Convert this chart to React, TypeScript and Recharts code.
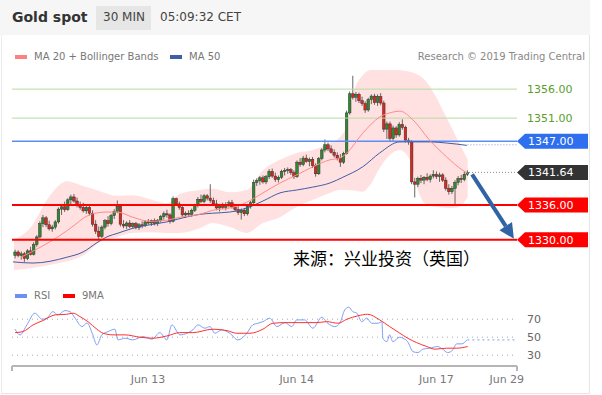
import React from "react";
import {
  ComposedChart,
  XAxis,
  YAxis,
  Bar,
  Line,
  Area,
  ReferenceLine,
} from "recharts";

// 30 min candles, [open, high, low, close], index 1..147
const candles: [number, number, number, number][] = [
  [1327.3, 1328.3, 1326.8, 1327.9], [1327.9, 1328.2, 1327.0, 1327.3], [1327.3, 1328.0, 1326.6, 1327.6],
  [1327.6, 1327.9, 1326.2, 1326.8], [1326.8, 1328.4, 1326.5, 1328.1], [1328.1, 1328.8, 1327.3, 1327.5],
  [1327.5, 1329.6, 1327.3, 1329.2], [1329.2, 1330.8, 1328.8, 1330.5], [1330.5, 1333.2, 1330.2, 1332.8],
  [1332.8, 1334.3, 1332.2, 1333.8], [1333.8, 1334.1, 1332.2, 1332.6], [1332.6, 1333.3, 1331.6, 1331.9],
  [1331.9, 1332.6, 1331.4, 1332.2], [1332.2, 1333.4, 1331.8, 1333.1], [1333.1, 1335.6, 1332.8, 1335.3],
  [1335.3, 1336.2, 1334.3, 1335.7], [1335.7, 1336.6, 1334.8, 1335.2], [1335.2, 1337.2, 1335.0, 1336.9],
  [1336.9, 1337.8, 1336.1, 1337.4], [1337.4, 1337.9, 1336.4, 1336.7], [1336.7, 1337.3, 1335.6, 1336.0],
  [1336.0, 1336.6, 1335.2, 1335.6], [1335.6, 1336.4, 1334.7, 1335.0], [1335.0, 1335.9, 1334.5, 1335.6],
  [1335.6, 1336.0, 1334.2, 1334.6], [1334.6, 1335.1, 1332.3, 1332.7], [1332.7, 1333.4, 1331.0, 1331.5],
  [1331.5, 1332.3, 1330.1, 1330.6], [1330.6, 1332.5, 1330.3, 1332.2], [1332.2, 1333.6, 1331.8, 1333.3],
  [1333.3, 1334.1, 1332.3, 1332.8], [1332.8, 1334.5, 1332.5, 1334.2], [1334.2, 1335.3, 1333.6, 1334.9],
  [1334.9, 1336.8, 1334.6, 1335.8], [1335.8, 1336.0, 1332.3, 1332.7], [1332.7, 1333.4, 1332.0, 1332.4],
  [1332.4, 1333.2, 1331.9, 1332.9], [1332.9, 1333.4, 1332.0, 1332.3], [1332.3, 1333.0, 1331.9, 1332.8],
  [1332.8, 1333.1, 1331.8, 1332.1], [1332.1, 1332.9, 1331.7, 1332.6], [1332.6, 1333.2, 1332.0, 1332.5],
  [1332.5, 1333.4, 1332.2, 1333.1], [1333.1, 1333.6, 1332.6, 1332.9], [1332.9, 1333.5, 1332.4, 1333.3],
  [1333.3, 1333.7, 1332.5, 1332.8], [1332.8, 1333.6, 1332.4, 1333.4], [1333.4, 1334.3, 1333.0, 1334.0],
  [1334.0, 1334.9, 1333.5, 1334.5], [1334.5, 1335.2, 1333.8, 1334.3], [1334.3, 1334.6, 1332.8, 1333.2],
  [1333.2, 1337.5, 1333.0, 1337.1], [1337.1, 1337.3, 1336.0, 1336.2], [1336.2, 1336.6, 1335.2, 1335.6],
  [1335.6, 1335.9, 1333.9, 1334.3], [1334.3, 1334.9, 1333.8, 1334.6], [1334.6, 1335.1, 1334.0, 1334.4],
  [1334.4, 1335.4, 1334.0, 1335.1], [1335.1, 1336.2, 1334.8, 1335.9], [1335.9, 1337.4, 1335.6, 1337.0],
  [1337.0, 1337.8, 1336.3, 1336.6], [1336.6, 1337.9, 1336.3, 1337.6], [1337.6, 1337.9, 1336.8, 1337.2],
  [1337.2, 1339.6, 1336.4, 1336.8], [1336.8, 1337.3, 1335.9, 1336.2], [1336.2, 1336.9, 1335.1, 1335.5],
  [1335.5, 1336.2, 1334.9, 1335.9], [1335.9, 1336.4, 1335.3, 1335.6], [1335.6, 1336.5, 1335.1, 1336.1],
  [1336.1, 1336.8, 1335.6, 1336.4], [1336.4, 1336.9, 1335.4, 1335.7], [1335.7, 1336.1, 1334.8, 1335.2],
  [1335.2, 1335.8, 1334.3, 1334.7], [1334.7, 1335.4, 1333.5, 1335.1], [1335.1, 1335.5, 1334.1, 1334.5],
  [1334.5, 1336.2, 1334.2, 1335.8], [1335.8, 1336.7, 1335.4, 1336.4], [1336.4, 1340.4, 1336.2, 1339.9],
  [1339.9, 1340.6, 1339.3, 1340.2], [1340.2, 1341.0, 1339.5, 1340.7], [1340.7, 1341.1, 1339.7, 1340.0],
  [1340.0, 1341.2, 1339.6, 1340.9], [1340.9, 1342.2, 1340.5, 1341.8], [1341.8, 1342.3, 1340.7, 1341.0],
  [1341.0, 1341.6, 1340.0, 1340.4], [1340.4, 1341.1, 1339.9, 1340.8], [1340.8, 1342.1, 1340.5, 1341.8],
  [1341.8, 1342.4, 1341.1, 1342.0], [1342.0, 1342.5, 1341.4, 1342.1], [1342.1, 1342.4, 1341.2, 1341.6],
  [1341.6, 1342.0, 1340.5, 1340.9], [1340.9, 1343.7, 1340.7, 1343.4], [1343.4, 1344.1, 1342.6, 1343.0],
  [1343.0, 1344.5, 1342.7, 1344.1], [1344.1, 1344.7, 1343.3, 1343.5], [1343.5, 1344.2, 1342.7, 1343.9],
  [1343.9, 1344.3, 1342.4, 1342.8], [1342.8, 1343.2, 1340.9, 1341.4], [1341.4, 1344.3, 1341.2, 1344.0],
  [1344.0, 1345.8, 1343.7, 1345.5], [1345.5, 1347.3, 1345.1, 1346.4], [1346.4, 1346.8, 1345.3, 1345.7],
  [1345.7, 1346.3, 1344.9, 1345.1], [1345.1, 1345.6, 1344.2, 1344.6], [1344.6, 1345.1, 1343.7, 1344.1],
  [1344.1, 1344.8, 1342.6, 1343.4], [1343.4, 1345.2, 1343.1, 1344.9], [1344.9, 1352.3, 1344.7, 1351.9],
  [1351.9, 1355.6, 1351.6, 1355.2], [1355.2, 1358.3, 1354.2, 1354.6], [1354.6, 1355.5, 1353.8, 1355.1],
  [1355.1, 1355.4, 1353.6, 1354.0], [1354.0, 1354.7, 1353.1, 1353.5], [1353.5, 1353.9, 1351.9, 1352.4],
  [1352.4, 1354.5, 1352.1, 1354.2], [1354.2, 1355.1, 1353.4, 1354.8], [1354.8, 1355.2, 1353.3, 1353.7],
  [1353.7, 1355.1, 1353.1, 1354.7], [1354.7, 1355.3, 1353.2, 1353.6], [1353.6, 1354.0, 1348.6, 1349.1],
  [1349.1, 1350.4, 1347.4, 1350.0], [1350.0, 1350.4, 1347.0, 1347.5], [1347.5, 1349.7, 1347.1, 1349.3],
  [1349.3, 1349.6, 1347.6, 1348.1], [1348.1, 1350.3, 1347.8, 1349.9], [1349.9, 1350.8, 1349.0, 1349.4],
  [1349.4, 1349.7, 1346.8, 1347.2], [1347.2, 1347.6, 1346.4, 1346.9], [1346.9, 1347.2, 1339.6, 1340.0],
  [1340.0, 1340.7, 1337.3, 1339.6], [1339.6, 1340.9, 1339.1, 1340.6], [1340.6, 1341.2, 1339.8, 1340.3],
  [1340.3, 1341.0, 1339.6, 1340.8], [1340.8, 1341.5, 1340.1, 1340.4], [1340.4, 1341.3, 1339.9, 1341.0],
  [1341.0, 1342.0, 1340.6, 1341.3], [1341.3, 1341.8, 1340.5, 1340.9], [1340.9, 1341.6, 1340.0, 1341.2],
  [1341.2, 1341.5, 1340.0, 1340.3], [1340.3, 1340.8, 1338.5, 1338.9], [1338.9, 1339.6, 1337.8, 1338.3],
  [1338.3, 1339.3, 1337.9, 1338.9], [1338.9, 1340.3, 1335.9, 1339.9], [1339.9, 1341.0, 1339.4, 1340.6],
  [1340.6, 1341.2, 1339.8, 1340.4], [1340.4, 1341.8, 1340.1, 1341.3], [1341.3, 1342.0, 1341.0, 1341.64],
];

// Bollinger bands, [index, lower, upper]
const bollinger: [number, number, number][] = [
  [0.6, 1324.8, 1330.0], [5.8, 1325.1, 1332.0], [12.3, 1325.7, 1337.7], [17.7, 1326.3, 1340.1],
  [22.9, 1327.3, 1339.3], [28.4, 1329.6, 1338.4], [33.9, 1330.5, 1337.6], [39, 1331.2, 1337.7],
  [44.5, 1331.3, 1337.0], [50, 1331.2, 1336.3], [54.2, 1331.2, 1337.9], [60.6, 1332.0, 1338.6],
  [64.8, 1332.9, 1338.8], [70.3, 1332.2, 1338.2], [75.8, 1331.2, 1338.6], [81, 1332.9, 1342.0],
  [86.5, 1333.9, 1343.8], [91.9, 1335.7, 1345.0], [97.1, 1336.9, 1345.5], [102.6, 1338.1, 1346.7],
  [105.8, 1338.6, 1347.7], [108.1, 1338.6, 1349.8], [110, 1338.5, 1355.0], [113.2, 1338.3, 1358.4],
  [115.5, 1339.4, 1359.3], [118.7, 1342.4, 1359.6], [121.9, 1344.6, 1359.5], [125.2, 1345.5, 1359.3],
  [128.4, 1343.8, 1359.0], [131, 1338.6, 1358.5], [133.2, 1336.3, 1357.6], [136.5, 1335.7, 1355.0],
  [140.3, 1335.5, 1351.0], [143.9, 1335.6, 1347.2], [147.1, 1337.4, 1343.8],
];

const ma20: [number, number][] = [
  [2.9, 1327.0], [9.4, 1328.8], [14.8, 1330.5], [20.3, 1332.6], [23.5, 1333.9], [26.8, 1334.6],
  [31, 1334.8], [33.9, 1334.8], [39, 1333.9], [44.5, 1333.2], [50, 1333.4], [54.2, 1333.9],
  [60.6, 1334.4], [64.8, 1335.1], [70.3, 1335.5], [75.8, 1336.5], [81, 1338.1], [86.5, 1339.8],
  [91.9, 1341.2], [97.1, 1342.6], [102.6, 1343.8], [105.8, 1344.1], [108.1, 1345.0], [113.2, 1348.4],
  [118.7, 1351.2], [122.6, 1352.0], [125.2, 1352.2], [129.4, 1350.7], [134.8, 1347.2], [140.3, 1344.3],
  [145.5, 1342.0], [147.1, 1341.5],
];

const ma50: [number, number][] = [
  [0.3, 1326.2], [6.8, 1326.0], [17.7, 1327.0], [22.9, 1327.9], [27.4, 1329.5], [31, 1330.6],
  [33.9, 1331.1], [39, 1332.0], [44.5, 1332.6], [50, 1333.1], [55.2, 1333.8], [60.6, 1334.4],
  [64.8, 1334.6], [70.3, 1334.8], [75.8, 1335.5], [81, 1336.7], [86.5, 1338.1], [91.9, 1338.6],
  [97.1, 1339.1], [102.6, 1339.8], [106.8, 1340.8], [113.2, 1342.6], [118.7, 1345.0], [125.2, 1346.9],
  [129.4, 1346.9], [134.8, 1346.9], [140.3, 1346.7], [146.8, 1346.3],
];

const rsi: [number, number][] = [
  [1, 58.9], [2.6, 52.5], [4.8, 63.7], [7.4, 76.7], [9.7, 70], [11.3, 71.4], [13.2, 78.4], [14.8, 74.8],
  [17.1, 79.6], [18.7, 78.4], [20.3, 71.4], [22.6, 61.8], [24.2, 65.8], [26.1, 52.5], [27.4, 41.4],
  [29, 52.6], [31, 56.2], [33.2, 58.9], [34.2, 47], [36.5, 48.9], [39, 47], [42.3, 50.7], [45.2, 47.8],
  [47.7, 55.1], [50, 47], [51.6, 63.7], [54.2, 52.6], [56.5, 54.4], [58.4, 58.1], [60, 63.7], [62.3, 60],
  [63.9, 61.8], [65.5, 54.4], [67.7, 58.1], [70.3, 54.4], [72.9, 47], [75.8, 54.4], [77.7, 63.7],
  [79.4, 65.5], [81, 67.3], [83.2, 71.1], [85.5, 61.8], [88.1, 66.2], [90.3, 61.8], [91.9, 69.2],
  [94.5, 69.2], [97.1, 60], [100, 72.2], [101.9, 65.5], [104.2, 61.8], [105.8, 65.5], [107.4, 80.3],
  [108.7, 83.3], [110, 78.4], [111.3, 76.7], [112.9, 67.3], [114.5, 71.1], [116.1, 65.5], [118.1, 65.5],
  [119.4, 67.3], [119.7, 48.9], [121, 45.1], [121.9, 52.6], [122.9, 45.1], [125.2, 50], [126.1, 48.9],
  [127.7, 45.1], [129.4, 34], [131, 32.9], [132.6, 36.7], [134.8, 37.8], [137.4, 39.6], [139, 36.7],
  [140.6, 32.9], [142.3, 35.9], [143.5, 42.6], [145.2, 42.6], [146.8, 47],
];

const rsiMa: [number, number][] = [
  [1, 55.1], [3.5, 56.2], [6.8, 63.7], [10, 68.5], [13.9, 74.8], [17.7, 75.5], [19.7, 76.7], [21.9, 72.9],
  [24.5, 67.3], [27.4, 58.9], [29.4, 54.4], [32.6, 52.6], [36.5, 52.6], [41.3, 50], [45.5, 48.9],
  [50, 51.4], [54.2, 55.1], [58.4, 55.1], [64.8, 58.9], [69.4, 57.3], [72.6, 54.4], [76.8, 54.4],
  [81, 58.9], [84.2, 65.5], [88.7, 66.2], [92.9, 66.2], [98.4, 66.2], [101.6, 67.3], [105.2, 65.5],
  [108.1, 70], [111.6, 73.7], [114.8, 75.5], [118.7, 69.2], [121.9, 61.8], [125.2, 54.4], [127.7, 48.9],
  [130.6, 44], [133.9, 39.6], [136.5, 36.7], [140.3, 37.8], [143.5, 37.8], [147.1, 39.6],
];

const dateTicks = [43.9, 91.9, 137, 159.7];
const dateLabels = ["Jun 13", "Jun 14", "Jun 17", "Jun 29"];
const rsiLevels = [70, 50, 30];
const lastPrice = 1341.64;
const arrowFrom = { i: 148.5, p: 1341.3 };
const arrowTo = { i: 162, p: 1330.2 };

const X_MAX = 163;
const FONT = "'DejaVu Sans', Verdana, sans-serif";

const candleData = candles.map(([o, h, l, c], k) => ({ i: k + 1, o, h, l, c, range: [l, h] }));
const bandData = bollinger.map(([i, lo, hi]) => ({ i, band: [lo, hi] }));
const toPts = (arr: [number, number][]) => arr.map(([i, v]) => ({ i, v }));

function Candle(props: any) {
  const { x, y, width, height, payload } = props;
  if (!payload) return null;
  const { o, h, l, c } = payload;
  const top = Math.min(y, y + height);
  const hgt = Math.abs(height);
  const k = hgt / (h - l || 1);
  const cx = x + width / 2;
  const yo = top + (h - o) * k;
  const yc = top + (h - c) * k;
  const up = c >= o;
  return (
    <g>
      <line x1={cx} x2={cx} y1={top} y2={top + hgt} stroke="#666" strokeWidth={1} />
      <rect
        x={cx - 1.3}
        y={Math.min(yo, yc)}
        width={2.6}
        height={Math.max(Math.abs(yc - yo), 1)}
        fill={up ? "#2f8a2f" : "#e0261c"}
        stroke="#333"
        strokeWidth={0.5}
      />
    </g>
  );
}

function PriceTag(props: any) {
  const { viewBox, text, bg } = props;
  if (!viewBox) return null;
  const x = viewBox.x + viewBox.width;
  const y = viewBox.y;
  return (
    <g>
      <polygon
        points={`${x},${y} ${x + 8},${y - 7.5} ${x + 71},${y - 7.5} ${x + 71},${y + 7.5} ${x + 8},${y + 7.5}`}
        fill={bg}
      />
      <text x={x + 11} y={y} dy="0.36em" fill="#fff" fontSize={11} fontFamily={FONT}>
        {text}
      </text>
    </g>
  );
}

function SideText(props: any) {
  const { viewBox, text, color } = props;
  if (!viewBox) return null;
  return (
    <text x={viewBox.x + viewBox.width + 10} y={viewBox.y} dy="0.36em" fill={color} fontSize={11} fontFamily={FONT}>
      {text}
    </text>
  );
}

function TrendArrow(props: any) {
  const { x1, y1, x2, y2 } = props;
  const dx = x2 - x1;
  const dy = y2 - y1;
  const len = Math.sqrt(dx * dx + dy * dy) || 1;
  const ux = dx / len;
  const uy = dy / len;
  const bx = x2 - ux * 15;
  const by = y2 - uy * 15;
  const px = -uy * 7.5;
  const py = ux * 7.5;
  return (
    <g>
      <line x1={x1} y1={y1} x2={bx} y2={by} stroke="#3064a4" strokeWidth={4} />
      <polygon points={`${x2},${y2} ${bx + px},${by + py} ${bx - px},${by - py}`} fill="#3064a4" />
    </g>
  );
}

function DateTick(props: any) {
  const { x, y, payload } = props;
  const k = dateTicks.indexOf(payload.value);
  if (k < 0) {
    return <line x1={x} x2={x} y1={y - 8} y2={y - 3} stroke="#b5b5b5" strokeWidth={2} />;
  }
  return (
    <text x={x} y={y} dy="0.85em" textAnchor="middle" fill="#777" fontSize={11} fontFamily={FONT}>
      {dateLabels[k]}
    </text>
  );
}

function Swatch({ color }: { color: string }) {
  return <span style={{ display: "inline-block", width: 12, height: 4, background: color, marginRight: 7, verticalAlign: "middle" }} />;
}

export default function App() {
  const text: React.CSSProperties = { position: "absolute", fontFamily: FONT, whiteSpace: "nowrap" };
  return (
    <div style={{ position: "absolute", left: 0, top: 0, width: 602, height: 395, background: "#fff", overflow: "hidden" }}>
      {/* header */}
      <div style={{ position: "absolute", left: 0, top: 0, width: 590, height: 35, background: "#f6f6f6" }} />
      <div style={{ ...text, left: 12, top: 9, fontSize: 14, fontWeight: "bold", color: "#333" }}>Gold spot</div>
      <div style={{ position: "absolute", left: 96, top: 6, width: 55, height: 24, background: "#e6e6e6" }} />
      <div style={{ ...text, left: 103, top: 10, fontSize: 12, color: "#444" }}>30 MIN</div>
      <div style={{ ...text, left: 160, top: 10, fontSize: 12, color: "#444" }}>05:09:32 CET</div>
      <div style={{ position: "absolute", left: 1, top: 35, width: 589, height: 359, borderLeft: "1px solid #ececec", borderRight: "1px solid #e6e6e6", borderBottom: "1px solid #e6e6e6", boxSizing: "border-box" }} />

      {/* legends */}
      <div style={{ ...text, left: 15, top: 50, fontSize: 10, color: "#777", lineHeight: "14px" }}>
        <Swatch color="#ff8080" />MA 20 + Bollinger Bands
      </div>
      <div style={{ ...text, left: 170, top: 50, fontSize: 10, color: "#777", lineHeight: "14px" }}>
        <Swatch color="#3e5ea6" />MA 50
      </div>
      <div style={{ ...text, right: 17, top: 50, fontSize: 10, color: "#888", lineHeight: "14px" }}>
        Research © 2019 Trading Central
      </div>
      <div style={{ ...text, left: 15, top: 289, fontSize: 10, color: "#777", lineHeight: "14px" }}>
        <Swatch color="#6d8ff0" />RSI
      </div>
      <div style={{ ...text, left: 63, top: 289, fontSize: 10, color: "#777", lineHeight: "14px" }}>
        <Swatch color="#ff0000" />9MA
      </div>

      {/* price panel */}
      <div style={{ position: "absolute", left: 0, top: 60 }}>
        <ComposedChart width={602} height={220} data={candleData} margin={{ top: 10, right: 85, left: 12, bottom: 10 }}>
          <XAxis type="number" dataKey="i" domain={[0, X_MAX]} hide allowDataOverflow />
          <YAxis type="number" domain={[1324.8, 1359.3]} hide allowDataOverflow />
          <Area data={bandData} dataKey="band" type="monotone" stroke="none" fill="#ffd9d9" fillOpacity={0.8} isAnimationActive={false} />
          <ReferenceLine y={1356} stroke="#b5dba0" strokeWidth={1} label={<SideText text="1356.00" color="#5a9e2a" />} />
          <ReferenceLine y={1351} stroke="#b5dba0" strokeWidth={1} label={<SideText text="1351.00" color="#5a9e2a" />} />
          <ReferenceLine y={1347} stroke="#5b8ff6" strokeWidth={1.5} label={<PriceTag text="1347.00" bg="#2d6fee" />} />
          <ReferenceLine
            segment={[{ x: 147, y: 1346.4 }, { x: X_MAX, y: 1346.4 }]}
            stroke="#8899bb"
            strokeDasharray="1 2"
          />
          <Line data={toPts(ma50)} dataKey="v" type="monotone" stroke="#3e5ea6" strokeWidth={1} dot={false} activeDot={false} isAnimationActive={false} />
          <Line data={toPts(ma20)} dataKey="v" type="monotone" stroke="#ff8a8a" strokeWidth={1} dot={false} activeDot={false} isAnimationActive={false} />
          <Bar dataKey="range" barSize={3} shape={<Candle />} isAnimationActive={false} />
          <ReferenceLine y={1336} stroke="#ff0000" strokeWidth={2} label={<PriceTag text="1336.00" bg="#ff0000" />} />
          <ReferenceLine y={1330} stroke="#ff0000" strokeWidth={2} label={<PriceTag text="1330.00" bg="#ff0000" />} />
          <ReferenceLine
            segment={[{ x: 147.5, y: lastPrice }, { x: X_MAX, y: lastPrice }]}
            stroke="#888"
            strokeDasharray="1 2"
            label={<PriceTag text="1341.64" bg="#333333" />}
          />
          <ReferenceLine
            segment={[{ x: arrowFrom.i, y: arrowFrom.p }, { x: arrowTo.i, y: arrowTo.p }]}
            shape={(p: any) => <TrendArrow {...p} />}
          />
        </ComposedChart>
      </div>

      <div style={{ ...text, left: 293, top: 248, fontSize: 17, lineHeight: "20px", color: "#000", fontFamily: "'Noto Sans CJK SC', sans-serif" }}>
        来源：兴业投资（英国）
      </div>

      {/* RSI panel */}
      <div style={{ position: "absolute", left: 0, top: 290 }}>
        <ComposedChart width={602} height={104} margin={{ top: 13, right: 85, left: 12, bottom: 8 }}>
          <XAxis
            type="number"
            dataKey="i"
            domain={[0, X_MAX]}
            ticks={[0, ...dateTicks, X_MAX]}
            interval={0}
            tick={<DateTick />}
            tickLine={false}
            axisLine={{ stroke: "#b5b5b5", strokeWidth: 2 }}
            height={20}
            allowDataOverflow
          />
          <YAxis type="number" domain={[18, 88]} hide allowDataOverflow />
          {rsiLevels.map((lv) => (
            <ReferenceLine key={lv} y={lv} stroke="#aaa" strokeDasharray="1 4" label={<SideText text={String(lv)} color="#666" />} />
          ))}
          <ReferenceLine segment={[{ x: 147, y: 47 }, { x: X_MAX, y: 47 }]} stroke="#7f9ff5" strokeDasharray="2 3" />
          <Line data={toPts(rsi)} dataKey="v" type="monotone" stroke="#7f9ff5" strokeWidth={1} dot={false} activeDot={false} isAnimationActive={false} />
          <Line data={toPts(rsiMa)} dataKey="v" type="monotone" stroke="#ff3030" strokeWidth={1} dot={false} activeDot={false} isAnimationActive={false} />
        </ComposedChart>
      </div>
    </div>
  );
}
